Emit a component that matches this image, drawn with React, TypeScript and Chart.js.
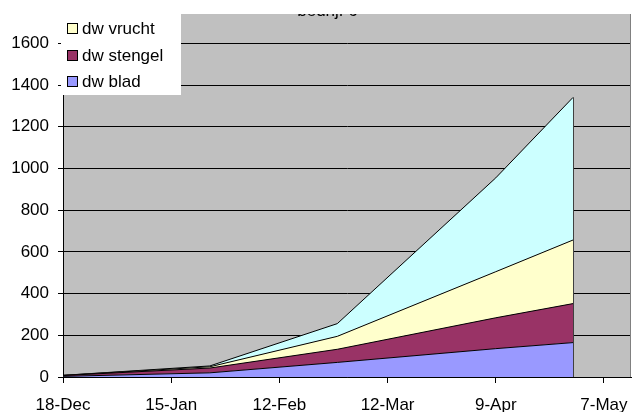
import React, { useEffect, useRef } from "react";
import { Chart, registerables } from "chart.js";

Chart.register(...registerables);

// Sample dates, as days after 18-Dec
const sampleDays = [0, 38, 71, 112, 132];
const dwBlad = [3, 20, 70, 136, 165];
const dwStengel = [4, 23, 63, 148, 187];
const dwVrucht = [1, 6, 62, 221, 305];
const dwOverig = [0, 4, 61, 450, 684];

const xTickLabels = ["18-Dec", "15-Jan", "12-Feb", "12-Mar", "9-Apr", "7-May"];
const xTickStep = 28;
const yTickStep = 200;
const yTickMax = 1600;
const legendNames = ["dw vrucht", "dw stengel", "dw blad"];
const legendColors = ["#FFFFCC", "#993366", "#9999FF"];
const titleText = "bedrijf 6";

const FONT = '"Liberation Sans", Arial, sans-serif';

const toPoints = (vals: number[]) => vals.map((v, i) => ({ x: sampleDays[i], y: v }));

export default function App() {
  const ref = useRef<HTMLCanvasElement | null>(null);

  useEffect(() => {
    if (!ref.current) return;

    const bgPlugin = {
      id: "plotBg",
      beforeDraw(chart: any) {
        const { ctx, chartArea: a } = chart;
        ctx.save();
        ctx.fillStyle = "#C0C0C0";
        ctx.fillRect(a.left, a.top, a.right - a.left, a.bottom - a.top);
        ctx.restore();
      },
    };

    const overlayPlugin = {
      id: "overlay",
      afterDraw(chart: any) {
        const { ctx, chartArea: a, scales } = chart;
        const xs = scales.x;
        const ys = scales.y;
        ctx.save();
        // right edge of the stacked area
        const last = sampleDays.length - 1;
        const total = dwBlad[last] + dwStengel[last] + dwVrucht[last] + dwOverig[last];
        const lx = Math.round(xs.getPixelForValue(sampleDays[last])) + 0.5;
        ctx.strokeStyle = "#404040";
        ctx.lineWidth = 1;
        ctx.beginPath();
        ctx.moveTo(lx, ys.getPixelForValue(0));
        ctx.lineTo(lx, ys.getPixelForValue(total));
        ctx.stroke();
        // right border of plot
        ctx.strokeStyle = "#808080";
        ctx.beginPath();
        ctx.moveTo(a.right - 0.5, a.top);
        ctx.lineTo(a.right - 0.5, a.bottom);
        ctx.stroke();
        // title, clipped to plot
        ctx.save();
        ctx.beginPath();
        ctx.rect(a.left, a.top, a.right - a.left, a.bottom - a.top);
        ctx.clip();
        ctx.fillStyle = "#000";
        ctx.font = `17px ${FONT}`;
        ctx.textAlign = "center";
        ctx.textBaseline = "alphabetic";
        ctx.fillText(titleText, 327.5, 15.5);
        ctx.restore();
        // legend box
        ctx.fillStyle = "#FFFFFF";
        ctx.fillRect(61, 0, 120, 95);
        ctx.font = `17px ${FONT}`;
        ctx.textAlign = "left";
        ctx.textBaseline = "alphabetic";
        legendNames.forEach((name, i) => {
          const top = 23 + i * 26.7;
          ctx.fillStyle = legendColors[i];
          ctx.fillRect(67, Math.round(top), 10, 10);
          ctx.strokeStyle = "#000";
          ctx.lineWidth = 1;
          ctx.strokeRect(67.5, Math.round(top) + 0.5, 10, 10);
          ctx.fillStyle = "#000";
          ctx.fillText(name, 82, Math.round(top) + 10.5);
        });
        ctx.restore();
      },
    };

    const line = (label: string, vals: number[], color: string, fill: any) => ({
      label,
      data: toPoints(vals),
      backgroundColor: color,
      borderColor: "#000",
      borderWidth: 1,
      pointRadius: 0,
      tension: 0,
      fill,
    });

    const chart = new Chart(ref.current, {
      type: "line",
      data: {
        datasets: [
          line("dw blad", dwBlad, "#9999FF", "origin"),
          line("dw stengel", dwStengel, "#993366", "-1"),
          line("dw vrucht", dwVrucht, "#FFFFCC", "-1"),
          line("dw overig", dwOverig, "#CCFFFF", "-1"),
        ],
      },
      options: {
        animation: false,
        responsive: false,
        devicePixelRatio: 1,
        layout: { padding: { top: 14, right: 1, left: 0, bottom: 0 } },
        plugins: {
          legend: { display: false },
          tooltip: { enabled: false },
          title: { display: false },
        },
        scales: {
          x: {
            type: "linear",
            min: 0,
            max: 147,
            afterFit(scale: any) {
              scale.height = 35;
              scale.paddingLeft = 0;
              scale.paddingRight = 0;
              scale.paddingTop = 0;
              scale.paddingBottom = 0;
            },
            afterBuildTicks(scale: any) {
              scale.ticks = xTickLabels.map((_, i) => ({ value: i * xTickStep }));
            },
            ticks: {
              autoSkip: false,
              maxRotation: 0,
              padding: 12,
              color: "#000",
              font: { family: FONT, size: 17 },
              callback: (v: any) => xTickLabels[Math.round(Number(v) / xTickStep)] ?? "",
            },
            grid: {
              drawOnChartArea: false,
              drawTicks: true,
              tickLength: 6,
              color: "#000",
            },
            border: { display: true, color: "#000", width: 1 },
          },
          y: {
            type: "linear",
            stacked: true,
            min: 0,
            max: 1741,
            afterFit(scale: any) {
              scale.width = 63;
              scale.paddingTop = 0;
              scale.paddingBottom = 0;
              scale.paddingLeft = 0;
              scale.paddingRight = 0;
            },
            afterBuildTicks(scale: any) {
              const t = [];
              for (let v = 0; v <= yTickMax; v += yTickStep) t.push({ value: v });
              scale.ticks = t;
            },
            ticks: {
              padding: 9,
              color: "#000",
              font: { family: FONT, size: 17 },
              callback: (v: any) => String(v),
            },
            grid: {
              drawOnChartArea: true,
              drawTicks: true,
              tickLength: 5,
              color: "#000",
              lineWidth: 1,
            },
            border: { display: true, color: "#000", width: 1 },
          },
        },
      },
      plugins: [bgPlugin, overlayPlugin],
    } as any);

    return () => chart.destroy();
  }, []);

  return (
    <div style={{ position: "absolute", left: 0, top: 0, width: 632, height: 412, background: "#fff" }}>
      <canvas ref={ref} width={632} height={412} />
    </div>
  );
}
